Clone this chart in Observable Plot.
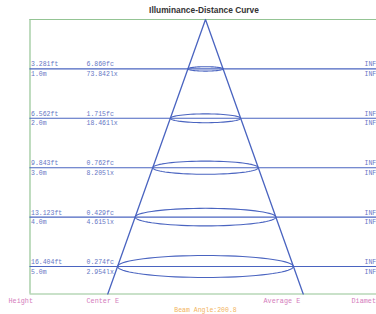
<!DOCTYPE html>
<html><head><meta charset="utf-8">
<script src="https://cdn.jsdelivr.net/npm/d3@7"></script>
<script src="https://cdn.jsdelivr.net/npm/@observablehq/plot@0.6"></script>
<style>body{margin:0;background:#fff}</style>
</head><body><div id="chart"></div>
<script>
const distances = [1, 2, 3, 4, 5];
const heightFt = ["3.281ft", "6.562ft", "9.843ft", "13.123ft", "16.404ft"];
const heightM = ["1.0m", "2.0m", "3.0m", "4.0m", "5.0m"];
const centerFc = ["6.860fc", "1.715fc", "0.762fc", "0.429fc", "0.274fc"];
const centerLx = ["73.842lx", "18.461lx", "8.205lx", "4.615lx", "2.954lx"];
const diameterTop = ["INF", "INF", "INF", "INF", "INF"];
const diameterBot = ["INF", "INF", "INF", "INF", "INF"];
const bottomLabels = ["Height", "Center E", "Average E", "Diameter"];
const title = "Illuminance-Distance Curve";
const beamAngle = "Beam Angle:200.8";

const W = 376, H = 314;
const PX = 49.4;          // pixels per metre
const apexY = 19, apexX = 205;
const k = 0.356;           // half-width slope of the cone
const maxD = (293.5 - apexY) / PX;
const xl = (29.5 - apexX) / PX, xr = (W + 5 - apexX) / PX;
const fx = p => (p - apexX) / PX;

const rows = distances.map((d, i) => ({d, ft: heightFt[i], m: heightM[i], fc: centerFc[i], lx: centerLx[i], dt: diameterTop[i], db: diameterBot[i]}));

const ellipse = [];
distances.forEach(d => {
  const rx = k * d, ry = 0.0445 * d;
  for (let t = 0; t <= 72; t++) {
    const a = t / 72 * 2 * Math.PI;
    ellipse.push({d, x: rx * Math.cos(a), y: d + ry * Math.sin(a)});
  }
});

const cone = [
  {x: -k * maxD, y: maxD}, {x: 0, y: 0}, {x: k * maxD, y: maxD}
];
const bottomPos = [8, 86, 263, 351].map(fx);
const bottom = bottomLabels.map((t, i) => ({t, x: bottomPos[i]}));

const blue = "#4a64c0";
const lblue = "#6676c4";
const green = "#94c494";
const pink = "#d47cbc";
const orange = "#f2b460";
const mono = "'Liberation Mono', monospace";

const chart = Plot.plot({
  width: W, height: H,
  marginTop: 0, marginBottom: 0, marginLeft: 0, marginRight: 0,
  x: {domain: [fx(0), fx(W)], axis: null},
  y: {domain: [-apexY / PX, (H - apexY) / PX], range: [0, H], axis: null},
  style: {background: "#fff"},
  marks: [
    // frame
    Plot.ruleY([0, maxD], {x1: xl, x2: xr, stroke: green, strokeWidth: 1.2}),
    Plot.ruleX([xl], {y1: 0, y2: maxD, stroke: green, strokeWidth: 1.2}),
    // horizontal level lines
    Plot.ruleY(rows, {y: "d", x1: xl, x2: xr, stroke: blue, strokeWidth: 1.1}),
    // cone
    Plot.line(cone, {x: "x", y: "y", stroke: blue, strokeWidth: 1.3}),
    // ellipses
    Plot.line(ellipse, {x: "x", y: "y", z: "d", stroke: blue, strokeWidth: 1.1}),
    // labels
    Plot.text(rows, {x: xl, y: "d", text: "ft", textAnchor: "start", dx: 1, dy: -4.5, fill: lblue, fontFamily: mono, fontSize: 6.5}),
    Plot.text(rows, {x: xl, y: "d", text: "m", textAnchor: "start", dx: 1, dy: 5, fill: lblue, fontFamily: mono, fontSize: 6.5}),
    Plot.text(rows, {x: fx(86), y: "d", text: "fc", textAnchor: "start", dy: -4.5, fill: lblue, fontFamily: mono, fontSize: 6.5}),
    Plot.text(rows, {x: fx(86), y: "d", text: "lx", textAnchor: "start", dy: 5, fill: lblue, fontFamily: mono, fontSize: 6.5}),
    Plot.text(rows, {x: fx(364), y: "d", text: "dt", textAnchor: "start", dy: -4.5, fill: lblue, fontFamily: mono, fontSize: 6.5}),
    Plot.text(rows, {x: fx(364), y: "d", text: "db", textAnchor: "start", dy: 5, fill: lblue, fontFamily: mono, fontSize: 6.5}),
    Plot.text(bottom, {x: "x", y: maxD, text: "t", textAnchor: "start", dy: 6.5, fill: pink, fontFamily: mono, fontSize: 6.8}),
    Plot.text([beamAngle], {x: 0, y: maxD, text: d => d, dy: 16, fill: orange, fontFamily: mono, fontSize: 6.5}),
    Plot.text([title], {x: fx(203.5), y: 0, text: d => d, dy: -9.5, fill: "#333", fontFamily: "'Liberation Sans', Arial, sans-serif", fontSize: 8.4, fontWeight: 600})
  ]
});
document.getElementById("chart").appendChild(chart);
</script>
</body></html>
